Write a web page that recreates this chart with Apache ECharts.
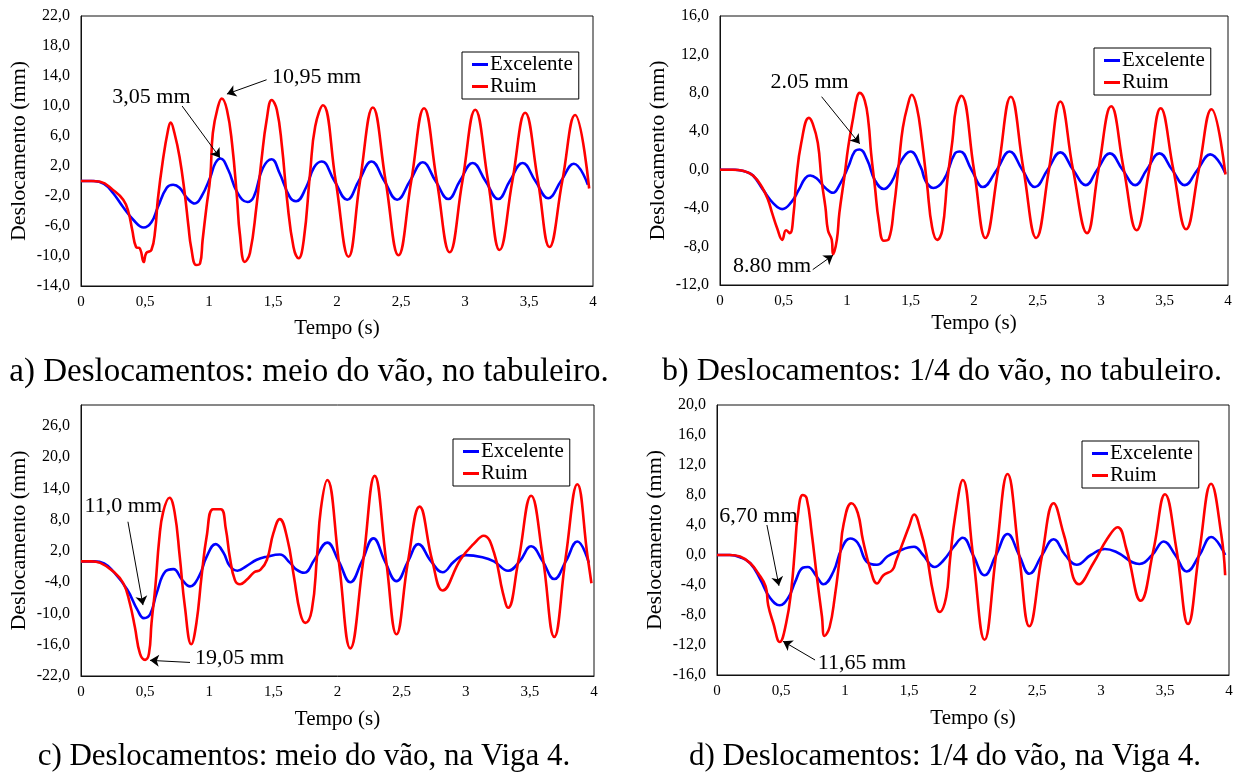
<!DOCTYPE html>
<html>
<head>
<meta charset="utf-8">
<script src="https://cdn.jsdelivr.net/npm/echarts@6/dist/echarts.min.js"></script>
<style>
html,body{margin:0;padding:0;background:#fff;}
#main{width:1236px;height:775px;}
</style>
</head>
<body>
<div id="main"></div>
<script>
// tick labels
var xTicks = [0, 0.5, 1, 1.5, 2, 2.5, 3, 3.5, 4];
var yTicksA = [-14, -10, -6, -2, 2, 6, 10, 14, 18, 22];
var yTicksB = [-12, -8, -4, 0, 4, 8, 12, 16];
var yTicksC = [-22, -16, -10, -4, 2, 8, 14, 20, 26];
var yTicksD = [-16, -12, -8, -4, 0, 4, 8, 12, 16, 20];

// a) meio do vão, no tabuleiro  [tempo (s), deslocamento (mm)]
var excA = [[0,0],[0.1,0],[0.18,-0.4],[0.25,-1.6],[0.33,-3.5],[0.41,-5.2],[0.49,-6.2],[0.55,-5.5],[0.6,-3.5],[0.67,-0.9],[0.72,-0.5],[0.77,-0.9],[0.83,-2.3],[0.89,-3.0],[0.94,-2.1],[1.01,0.5],[1.05,2.4],[1.09,3.0],[1.15,1.5],[1.22,-1.5],[1.3,-2.8],[1.35,-2.1],[1.42,1.7],[1.49,2.9],[1.55,1.1],[1.63,-2.1],[1.68,-2.7],[1.76,-0.8],[1.82,1.8],[1.88,2.6],[1.98,0],[2.08,-2.5],[2.17,0],[2.27,2.6],[2.37,0],[2.47,-2.5],[2.57,0],[2.67,2.5],[2.77,0],[2.87,-2.4],[2.96,0],[3.06,2.4],[3.16,0],[3.26,-2.4],[3.35,0],[3.45,2.4],[3.55,0],[3.65,-2.3],[3.75,0],[3.85,2.3],[3.96,-0.5]];
var ruimA = [[0,0],[0.08,0],[0.15,-0.1],[0.25,-1.2],[0.33,-2.5],[0.37,-4.1],[0.4,-6.5],[0.43,-8.8],[0.46,-9.0],[0.49,-10.8],[0.51,-9.6],[0.55,-9.2],[0.58,-6.5],[0.6,-2.5],[0.64,2.8],[0.68,6.8],[0.7,7.8],[0.73,6.4],[0.77,3.2],[0.81,-1.6],[0.84,-6.1],[0.86,-8.8],[0.9,-11.2],[0.93,-11.0],[0.95,-7.9],[0.98,-3.5],[1.01,0.5],[1.03,6.4],[1.07,9.9],[1.1,11.0],[1.14,9.5],[1.18,5.0],[1.22,-2.5],[1.24,-6.9],[1.28,-10.8],[1.32,-9.6],[1.37,-3.5],[1.41,2.8],[1.45,8.1],[1.49,10.8],[1.53,9.5],[1.57,4.6],[1.61,-2.5],[1.66,-8.8],[1.7,-10.3],[1.74,-7.9],[1.79,1.1],[1.83,7.3],[1.89,10.1],[1.99,0],[2.09,-10.1],[2.18,0],[2.28,9.8],[2.38,0],[2.48,-9.9],[2.58,0],[2.68,9.7],[2.78,0],[2.88,-9.5],[2.98,0],[3.08,9.5],[3.18,0],[3.27,-9.2],[3.37,0],[3.47,9.1],[3.57,0],[3.66,-8.8],[3.76,0],[3.86,8.8],[3.97,-1.0]];

// b) 1/4 do vão, no tabuleiro
var excB = [[0,0],[0.12,0],[0.2,-0.2],[0.26,-0.6],[0.34,-2.1],[0.42,-3.5],[0.49,-4.1],[0.56,-3.4],[0.62,-2.1],[0.67,-0.9],[0.71,-0.6],[0.76,-0.9],[0.83,-1.9],[0.89,-2.4],[0.94,-1.6],[1.01,0.3],[1.06,1.9],[1.1,2.1],[1.16,1.0],[1.22,-1.1],[1.29,-2.0],[1.35,-1.3],[1.43,1.0],[1.5,1.9],[1.58,0.3],[1.62,-1.2],[1.68,-1.9],[1.76,-1.1],[1.85,1.7],[1.89,1.9],[1.98,0],[2.07,-1.8],[2.18,0],[2.28,1.9],[2.38,0],[2.48,-1.8],[2.58,0],[2.68,1.8],[2.78,0],[2.88,-1.6],[2.97,0],[3.07,1.7],[3.17,0],[3.27,-1.6],[3.36,0],[3.46,1.7],[3.56,0],[3.66,-1.6],[3.76,0],[3.86,1.6],[3.98,-0.4]];
var ruimB = [[0,0],[0.1,0],[0.18,-0.1],[0.26,-0.6],[0.33,-1.8],[0.38,-3.2],[0.41,-4.5],[0.45,-6.1],[0.49,-7.3],[0.52,-6.3],[0.55,-6.6],[0.58,-4.5],[0.6,-1.1],[0.64,2.8],[0.7,5.4],[0.73,4.8],[0.77,2.8],[0.8,-1.1],[0.83,-3.9],[0.85,-6.3],[0.88,-7.3],[0.89,-8.8],[0.92,-7.3],[0.94,-4.5],[0.98,-0.7],[1.01,2.4],[1.05,5.5],[1.08,7.6],[1.1,8.0],[1.14,7.2],[1.17,4.8],[1.19,1.7],[1.22,-1.8],[1.25,-5.3],[1.29,-7.4],[1.33,-7.2],[1.37,-3.9],[1.41,0.9],[1.44,4.4],[1.48,6.8],[1.51,7.8],[1.55,6.5],[1.59,3.0],[1.63,-1.5],[1.67,-6.0],[1.71,-7.3],[1.75,-6.3],[1.79,-1.1],[1.83,3.0],[1.86,6.5],[1.9,7.7],[2.0,0],[2.09,-7.1],[2.19,0],[2.29,7.6],[2.39,0],[2.49,-7.1],[2.59,0],[2.68,7.1],[2.78,0],[2.89,-6.6],[2.98,0],[3.08,6.6],[3.18,0],[3.28,-6.3],[3.38,0],[3.47,6.4],[3.57,0],[3.67,-6.2],[3.77,0],[3.87,6.3],[3.98,-0.5]];

// c) meio do vão, na Viga 4
var excC = [[0,0],[0.1,0],[0.18,-0.4],[0.25,-1.9],[0.36,-5.4],[0.44,-9.3],[0.49,-10.9],[0.54,-10.1],[0.59,-6.1],[0.66,-1.9],[0.72,-1.5],[0.79,-3.6],[0.85,-4.8],[0.92,-2.9],[0.98,0.9],[1.05,3.3],[1.11,1.7],[1.16,-0.9],[1.22,-1.8],[1.29,-0.9],[1.37,0.3],[1.45,0.9],[1.55,1.3],[1.63,-0.3],[1.68,-1.6],[1.74,-2.2],[1.82,0.3],[1.92,3.6],[2.01,0],[2.1,-4.0],[2.19,0],[2.28,4.4],[2.37,0],[2.46,-3.8],[2.55,0],[2.63,3.3],[2.73,0],[2.82,-2.1],[2.91,0],[3.0,1.2],[3.13,0.8],[3.22,0],[3.33,-1.8],[3.42,0],[3.51,2.9],[3.6,0],[3.69,-3.4],[3.78,0],[3.87,3.8],[3.96,-0.3]];
var ruimC = [[0,0],[0.08,0],[0.15,-0.3],[0.25,-1.9],[0.33,-4.2],[0.38,-8.0],[0.42,-12.6],[0.46,-17.7],[0.5,-18.9],[0.53,-17.7],[0.55,-11.8],[0.58,-4.8],[0.61,4.2],[0.64,9.4],[0.69,12.2],[0.73,9.4],[0.77,0.9],[0.81,-8.7],[0.86,-15.9],[0.9,-11.8],[0.94,-2.9],[0.98,4.8],[1.03,10.0],[1.09,10.0],[1.13,6.1],[1.16,0.9],[1.2,-3.6],[1.24,-4.4],[1.29,-3.6],[1.35,-2.1],[1.4,-1.6],[1.45,0.3],[1.5,5.4],[1.55,8.1],[1.61,4.2],[1.66,-2.9],[1.71,-10.0],[1.75,-11.8],[1.8,-9.3],[1.84,0.9],[1.87,10.0],[1.92,15.6],[2.01,0],[2.1,-16.7],[2.2,0],[2.29,16.4],[2.38,0],[2.46,-14.0],[2.55,0],[2.64,10.5],[2.74,0],[2.82,-5.6],[2.96,0.4],[3.06,3.3],[3.14,4.9],[3.22,1.7],[3.29,-6.1],[3.33,-8.9],[3.41,0],[3.51,12.6],[3.6,0.9],[3.69,-14.5],[3.78,0.9],[3.87,14.8],[3.95,0.9],[3.98,-4.2]];

// d) 1/4 do vão, na Viga 4
var excD = [[0,0],[0.1,0],[0.18,-0.3],[0.26,-1.1],[0.34,-3.3],[0.41,-5.6],[0.49,-6.7],[0.56,-5.6],[0.61,-3.6],[0.67,-1.7],[0.71,-1.6],[0.78,-2.9],[0.83,-3.9],[0.91,-2.2],[0.97,0.7],[1.04,2.2],[1.1,1.6],[1.17,-0.9],[1.25,-1.3],[1.33,-0.2],[1.4,0.4],[1.54,1.1],[1.61,0],[1.7,-1.6],[1.77,-0.7],[1.85,1.1],[1.92,2.3],[2.0,0],[2.09,-2.7],[2.18,0],[2.27,2.8],[2.36,0],[2.44,-2.5],[2.54,0],[2.63,2.1],[2.72,0],[2.81,-1.3],[2.92,0],[3.03,0.8],[3.12,0.4],[3.3,-1.2],[3.4,0],[3.49,1.8],[3.58,0],[3.67,-2.2],[3.77,0],[3.86,2.4],[3.97,0]];
var ruimD = [[0,0],[0.1,0],[0.18,-0.2],[0.26,-1.1],[0.32,-2.4],[0.38,-4.2],[0.4,-6.7],[0.44,-9.1],[0.49,-11.6],[0.54,-9.1],[0.58,-4.7],[0.61,1.1],[0.63,5.1],[0.67,8.0],[0.7,7.6],[0.74,2.9],[0.78,-2.9],[0.82,-8.2],[0.84,-10.8],[0.88,-9.6],[0.92,-5.6],[0.96,-0.2],[0.99,4.2],[1.05,6.9],[1.1,5.6],[1.14,2.0],[1.2,-2.0],[1.25,-3.8],[1.3,-2.7],[1.37,-2.0],[1.4,-0.7],[1.46,2.0],[1.5,3.8],[1.54,5.4],[1.59,3.3],[1.64,-0.2],[1.69,-5.1],[1.74,-7.6],[1.79,-5.6],[1.82,-0.7],[1.86,5.1],[1.92,10.0],[2.0,0],[2.09,-11.3],[2.18,0],[2.27,10.8],[2.36,0],[2.44,-9.5],[2.54,0],[2.63,6.9],[2.71,2.7],[2.83,-3.9],[2.94,-1.1],[3.05,2.2],[3.13,3.7],[3.2,0.7],[3.31,-6.1],[3.41,0.7],[3.5,8.1],[3.59,0.7],[3.68,-9.2],[3.77,0.7],[3.86,9.5],[3.94,2.7],[3.97,-2.7]];

var serif = 'Liberation Serif';

function fmtY(v) { return v.toFixed(1).replace('.', ','); }
function fmtX(v) { return String(v).replace('.', ','); }

// painel: grade, eixo y, legenda e anotações (texto + seta)
var panels = [
  { grid: {left: 81, top: 16, width: 512, height: 270}, yMin: -14, yMax: 22, yTicks: yTicksA,
    exc: excA, ruim: ruimA, legend: {left: 462, top: 52}, nameGapX: 32,
    notes: [{t: 0.55, y: 11.2, text: '3,05 mm'}, {t: 1.84, y: 13.9, text: '10,95 mm'}],
    arrows: [[[0.79, 10.0], [1.086, 3.1]], [[1.45, 13.5], [1.14, 11.6]]] },
  { grid: {left: 720, top: 16, width: 508, height: 269}, yMin: -12, yMax: 16, yTicks: yTicksB,
    exc: excB, ruim: ruimB, legend: {left: 1094, top: 48}, nameGapX: 28,
    notes: [{t: 0.705, y: 9.1, text: '2.05 mm'}, {t: 0.41, y: -10.0, text: '8.80 mm'}],
    arrows: [[[0.8, 7.6], [1.1, 2.7]], [[0.73, -10.4], [0.89, -8.9]]] },
  { grid: {left: 81, top: 405, width: 513, height: 271}, yMin: -22, yMax: 30, yTicks: yTicksC,
    exc: excC, ruim: ruimC, legend: {left: 453, top: 439}, nameGapX: 33,
    notes: [{t: 0.33, y: 10.5, text: '11,0 mm'}, {t: 1.236, y: -18.6, text: '19,05 mm'}],
    arrows: [[[0.366, 7.6], [0.483, -8.4]], [[0.85, -19.4], [0.538, -19.0]]] },
  { grid: {left: 717, top: 405, width: 512, height: 270}, yMin: -16, yMax: 20, yTicks: yTicksD,
    exc: excD, ruim: ruimD, legend: {left: 1082, top: 441}, nameGapX: 33,
    notes: [{t: 0.324, y: 5.2, text: '6,70 mm'}, {t: 1.133, y: -14.4, text: '11,65 mm'}],
    arrows: [[[0.39, 4.0], [0.484, -4.1]], [[0.766, -14.0], [0.516, -11.5]]] }
];

var grids = [], xAxes = [], yAxes = [], series = [], legends = [];

panels.forEach(function (p, i) {
  grids.push(Object.assign({show: true, borderColor: '#111', borderWidth: 1, backgroundColor: '#fff'}, p.grid));
  xAxes.push({
    type: 'value', gridIndex: i, min: 0, max: 4, interval: 0.5,
    name: 'Tempo (s)', nameLocation: 'middle', nameGap: p.nameGapX,
    nameTextStyle: {fontFamily: serif, fontSize: 21, color: '#000'},
    axisLine: {show: true, onZero: false, lineStyle: {color: '#111'}},
    axisTick: {show: false}, splitLine: {show: false},
    axisLabel: {formatter: fmtX, margin: 9, fontFamily: serif, fontSize: 15, color: '#000'}
  });
  yAxes.push({
    type: 'value', gridIndex: i, min: p.yMin, max: p.yMax,
    name: 'Deslocamento (mm)', nameLocation: 'middle', nameGap: 51,
    nameTextStyle: {fontFamily: serif, fontSize: 22, color: '#000'},
    axisLine: {show: true, onZero: false, lineStyle: {color: '#111'}},
    axisTick: {show: false}, splitLine: {show: false},
    axisLabel: {customValues: p.yTicks, formatter: fmtY, margin: 11, fontFamily: serif, fontSize: 16, color: '#000'}
  });
  series.push({
    name: 'Excelente', type: 'line', xAxisIndex: i, yAxisIndex: i, data: p.exc,
    showSymbol: false, smooth: 0.45,
    lineStyle: {color: '#0000ff', width: 2.6}, itemStyle: {color: '#0000ff'}
  });
  series.push({
    name: 'Ruim', type: 'line', xAxisIndex: i, yAxisIndex: i, data: p.ruim,
    showSymbol: false, smooth: 0.45,
    lineStyle: {color: '#ff0000', width: 2.6}, itemStyle: {color: '#ff0000'},
    markLine: {
      silent: true, symbol: ['none', 'arrow'], symbolSize: 9,
      label: {show: false},
      lineStyle: {color: '#000', width: 1, type: 'solid'},
      data: p.arrows.map(function (a) { return [{coord: a[0]}, {coord: a[1]}]; })
    },
    markPoint: {
      silent: true, symbol: 'rect', symbolSize: 1,
      itemStyle: {color: 'rgba(0,0,0,0)'},
      label: {show: true, position: 'inside', formatter: '{b}', fontFamily: serif, fontSize: 22, color: '#000'},
      data: p.notes.map(function (n) { return {name: n.text, coord: [n.t, n.y]}; })
    }
  });
  legends.push({
    left: p.legend.left, top: p.legend.top, orient: 'vertical',
    data: ['Excelente', 'Ruim'], icon: 'rect', itemWidth: 16, itemHeight: 3, itemGap: 1,
    padding: [2, 6, 2, 10], borderColor: '#000', borderWidth: 1, backgroundColor: '#fff',
    selectedMode: false,
    textStyle: {fontFamily: serif, fontSize: 21, color: '#000', padding: [0, 0, 0, -3]}
  });
});

var captions = [
  {x: 309, y: 372, size: 33, text: 'a) Deslocamentos: meio do vão, no tabuleiro.'},
  {x: 942, y: 372, size: 32, text: 'b) Deslocamentos: 1/4 do vão, no tabuleiro.'},
  {x: 304, y: 757, size: 31, text: 'c) Deslocamentos: meio do vão, na Viga 4.'},
  {x: 945, y: 757, size: 31, text: 'd) Deslocamentos: 1/4 do vão, na Viga 4.'}
];

var option = {
  animation: false,
  backgroundColor: '#fff',
  grid: grids, xAxis: xAxes, yAxis: yAxes, legend: legends, series: series,
  graphic: captions.map(function (c) {
    return {type: 'text', x: c.x, y: c.y,
      style: {text: c.text, fontFamily: serif, fontSize: c.size, fill: '#000', align: 'center', verticalAlign: 'middle'}};
  })
};

var myChart = echarts.init(document.getElementById('main'));
myChart.setOption(option);
</script>
</body>
</html>
